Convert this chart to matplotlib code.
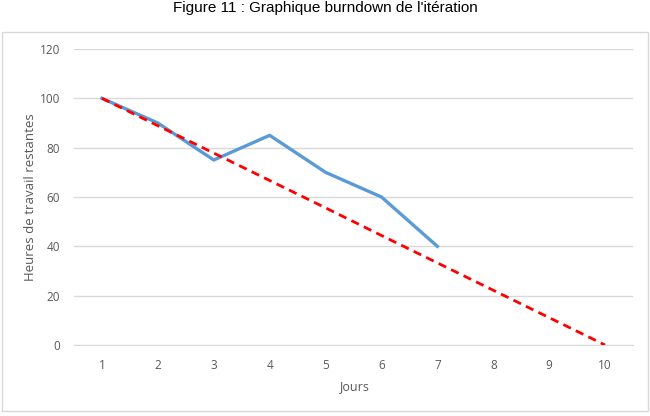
import matplotlib.pyplot as plt
from matplotlib.patches import Rectangle

# Burndown data
jours = [1, 2, 3, 4, 5, 6, 7, 8, 9, 10]
reel_jours = [1, 2, 3, 4, 5, 6, 7]
reel = [100, 90, 75, 85, 70, 60, 40]
ideal = [100, 88.9, 77.8, 66.7, 55.6, 44.4, 33.3, 22.2, 11.1, 0]
yticks = [0, 20, 40, 60, 80, 100, 120]

plt.rcParams['font.family'] = ['Open Sans', 'DejaVu Sans']

fig = plt.figure(figsize=(6.5, 4.16), dpi=100)
ax = fig.add_axes([74 / 650, 1 - 345 / 416, (633 - 74) / 650, (345 - 49) / 416])

# chart area border
fig.patches.append(Rectangle((2 / 650, 5 / 416), 646 / 650, 379 / 416,
                             transform=fig.transFigure, fill=False,
                             edgecolor='#d9d9d9', linewidth=1))

ax.plot(reel_jours, reel, color='#5b9bd5', linewidth=2.4, solid_joinstyle='round', zorder=3)
ax.plot(jours, ideal, color='#ff0000', linewidth=2, linestyle=(0, (3, 2)), zorder=4)

ax.set_xlim(0.5, 10.5)
ax.set_ylim(0, 120)
ax.set_xticks(jours)
ax.set_yticks(yticks)
ax.grid(axis='y', color='#d9d9d9', linewidth=1)
ax.set_axisbelow(True)
for s in ['top', 'right', 'left']:
    ax.spines[s].set_visible(False)
ax.spines['bottom'].set_color('#d9d9d9')
ax.tick_params(length=0, labelsize=8.5, colors='#595959', pad=10)
ax.tick_params(axis='y', pad=10)
ax.set_xlabel('Jours', fontsize=9, color='#595959', labelpad=6)
ax.set_ylabel('Heures de travail restantes', fontsize=9.5, color='#595959', labelpad=2)

fig.text(0.5, 1 - 1 / 416, "Figure 11 : Graphique burndown de l'itération",
         ha='center', va='top', fontsize=11, family='Liberation Sans', color='black')

fig.savefig('out.png', dpi=100)
